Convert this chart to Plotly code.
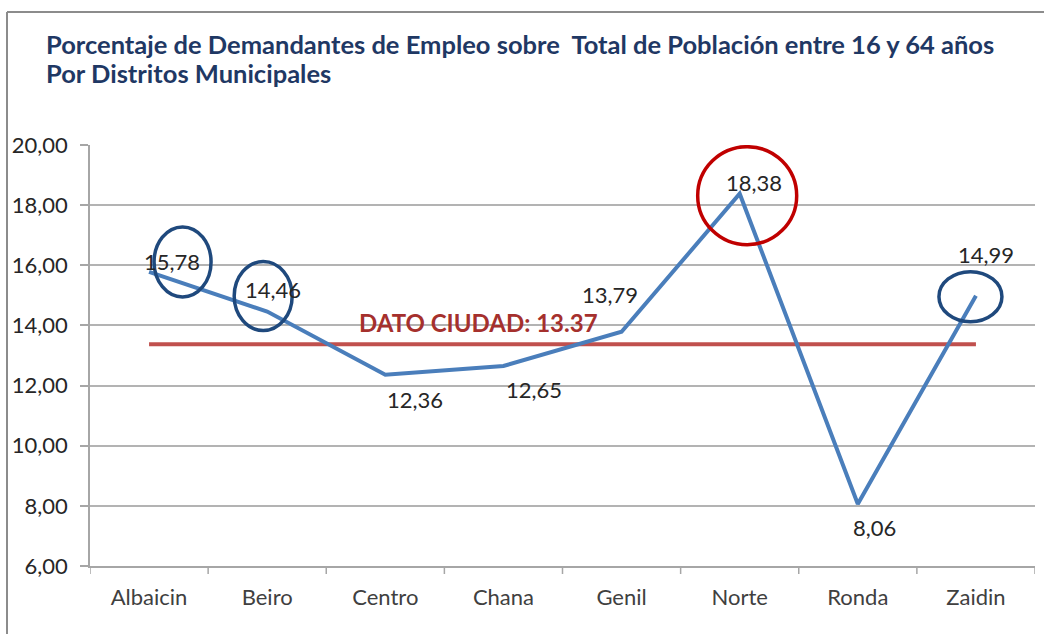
import plotly.graph_objects as go

districts = ["Albaicin", "Beiro", "Centro", "Chana", "Genil", "Norte", "Ronda", "Zaidin"]
values = [15.78, 14.46, 12.36, 12.65, 13.79, 18.38, 8.06, 14.99]
value_labels = ["15,78", "14,46", "12,36", "12,65", "13,79", "18,38", "8,06", "14,99"]
city_value = 13.37
city_label = "DATO CIUDAD: 13.37"
y_ticks = [6, 8, 10, 12, 14, 16, 18, 20]
y_tick_labels = ["6,00", "8,00", "10,00", "12,00", "14,00", "16,00", "18,00", "20,00"]
title_lines = ["Porcentaje de Demandantes de Empleo sobre  Total de Población entre 16 y 64 años",
               "Por Distritos Municipales"]

# label pixel shifts (style)
label_shifts = [(23, 10), (6, 22), (30, -25), (31, -23), (-12, 37), (14, 11), (17, -23), (10, 41)]
# highlighted points: index, color, pixel box (x0, x1, y0(down), y1(up))
highlights = [(0, "#1F497D", (5, 62, -25, 45)),
              (1, "#1F497D", (-33, 25, -19, 50)),
              (7, "#1F497D", (-37, 26, -26, 24)),
              (5, "#C00000", (-42, 57, -51, 47))]

FONT = "Lato"
xi = list(range(len(districts)))

fig = go.Figure()

# city reference line
fig.add_trace(go.Scatter(
    x=[xi[0], xi[-1]], y=[city_value, city_value], mode="lines",
    line=dict(color="#C0504D", width=4), hoverinfo="skip", showlegend=False))

fig.add_trace(go.Scatter(
    x=xi, y=values, mode="lines",
    line=dict(color="#4A7EBB", width=4), showlegend=False))

annotations = []
for i, (v, lab, (dx, dy)) in enumerate(zip(values, value_labels, label_shifts)):
    annotations.append(dict(x=i, y=v, xref="x", yref="y", text=lab, showarrow=False,
                            xshift=dx, yshift=dy,
                            font=dict(family=FONT, size=22, color="#262626")))

annotations.append(dict(x=2.79, y=city_value, xref="x", yref="y", text="<b>" + city_label + "</b>",
                        showarrow=False, xshift=0, yshift=22,
                        font=dict(family=FONT, size=24, color="#A5302D")))

def py(p):
    return (566 - p) / 421

for line_text, ypix in zip(title_lines, [44, 73]):
    annotations.append(dict(x=(44 - 90) / 945, y=py(ypix), xref="paper", yref="paper",
                            xanchor="left", yanchor="middle", align="left",
                            text="<b>" + line_text + "</b>", showarrow=False,
                            font=dict(family=FONT, size=25.5, color="#1F3864")))

shapes = []
for idx, col, (x0, x1, y0, y1) in highlights:
    shapes.append(dict(type="circle", xref="x", yref="y", xsizemode="pixel", ysizemode="pixel",
                       xanchor=idx, yanchor=values[idx], x0=x0, x1=x1, y0=y0, y1=y1,
                       line=dict(color=col, width=3.5)))

# outer frame (left and top)
shapes.append(dict(type="line", xref="paper", yref="paper",
                   x0=(7 - 90) / 945, x1=(7 - 90) / 945, y0=py(634), y1=py(12),
                   line=dict(color="#8C8C8C", width=2)))
shapes.append(dict(type="line", xref="paper", yref="paper",
                   x0=(7 - 90) / 945, x1=(1044 - 90) / 945, y0=py(12), y1=py(12),
                   line=dict(color="#8C8C8C", width=2)))

fig.update_layout(
    width=1044, height=635,
    margin=dict(l=90, r=9, t=145, b=69),
    paper_bgcolor="white", plot_bgcolor="white",
    annotations=annotations, shapes=shapes,
    showlegend=False,
    xaxis=dict(range=[-0.5, len(districts) - 0.5], tickmode="array", tickvals=xi, ticktext=districts,
               showgrid=False, zeroline=False, showline=True, linecolor="#A6A6A6", linewidth=1.5,
               ticks="", tickfont=dict(family=FONT, size=22, color="#404040"), ticklabelstandoff=11),
    yaxis=dict(range=[6, 20], tickmode="array", tickvals=y_ticks, ticktext=y_tick_labels,
               showgrid=True, gridcolor="#B3B3B3", gridwidth=1.5, zeroline=False,
               showline=True, linecolor="#A6A6A6", linewidth=1.5,
               ticks="outside", ticklen=8, tickcolor="#A6A6A6", tickwidth=1.5,
               tickfont=dict(family=FONT, size=22, color="#262626"), ticklabelstandoff=8),
)

# category boundary tick marks on x axis
for b in range(len(districts) + 1):
    fig.add_shape(type="line", xref="x", yref="paper", x0=b - 0.5, x1=b - 0.5, y0=0, y1=-8 / 421,
                  line=dict(color="#A6A6A6", width=1.5))

fig.write_html("out.html", config={"displayModeBar": False},
               post_script="document.body.style.margin='0';document.body.style.overflow='hidden';")
